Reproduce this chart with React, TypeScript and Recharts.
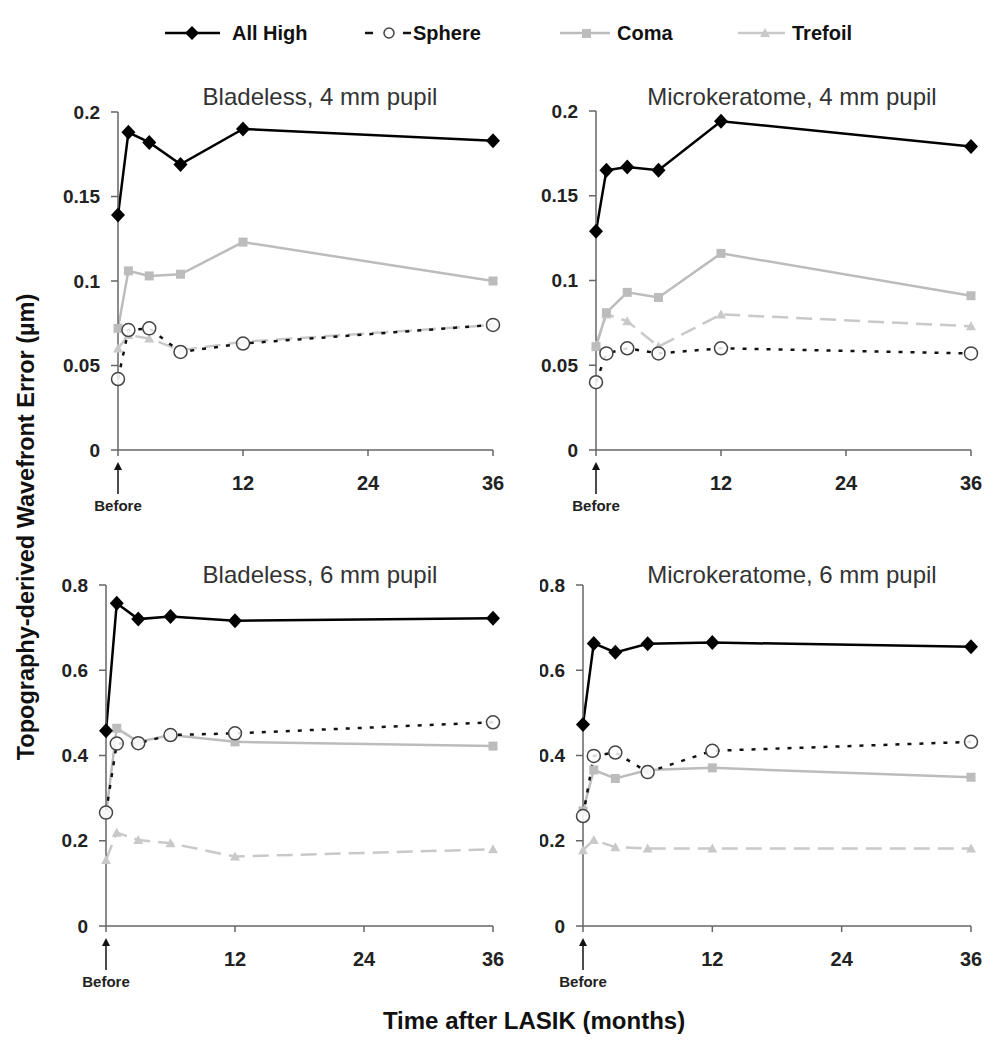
import React from "react";
import { LineChart, Line, XAxis, YAxis } from "recharts";

const FONT = '"Liberation Sans", Arial, Helvetica, sans-serif';

const months = [0, 1, 3, 6, 12, 36];
const xTicks = [0, 12, 24, 36];
const yTicks4mm = [0, 0.05, 0.1, 0.15, 0.2];
const yTicks6mm = [0, 0.2, 0.4, 0.6, 0.8];

// Bladeless, 4 mm pupil
const bl4AllHigh = [0.139, 0.188, 0.182, 0.169, 0.19, 0.183];
const bl4Sphere = [0.042, 0.071, 0.072, 0.058, 0.063, 0.074];
const bl4Coma = [0.072, 0.106, 0.103, 0.104, 0.123, 0.1];
const bl4Trefoil = [0.06, 0.068, 0.066, 0.059, 0.064, 0.074];

// Microkeratome, 4 mm pupil
const mk4AllHigh = [0.129, 0.165, 0.167, 0.165, 0.194, 0.179];
const mk4Sphere = [0.04, 0.057, 0.06, 0.057, 0.06, 0.057];
const mk4Coma = [0.061, 0.081, 0.093, 0.09, 0.116, 0.091];
const mk4Trefoil = [0.062, 0.08, 0.076, 0.061, 0.08, 0.073];

// Bladeless, 6 mm pupil
const bl6AllHigh = [0.458, 0.757, 0.72, 0.726, 0.716, 0.722];
const bl6Sphere = [0.266, 0.428, 0.429, 0.448, 0.452, 0.478];
const bl6Coma = [0.262, 0.464, 0.432, 0.448, 0.432, 0.422];
const bl6Trefoil = [0.155, 0.219, 0.202, 0.194, 0.163, 0.18];

// Microkeratome, 6 mm pupil
const mk6AllHigh = [0.473, 0.663, 0.642, 0.662, 0.665, 0.655];
const mk6Sphere = [0.258, 0.399, 0.407, 0.361, 0.411, 0.432];
const mk6Coma = [0.27, 0.366, 0.346, 0.366, 0.371, 0.349];
const mk6Trefoil = [0.178, 0.202, 0.185, 0.182, 0.182, 0.182];

const COMA = "#bcbcbc";
const TREFOIL = "#c9c9c9";
const AXIS = "#666";

const build = (a: number[], s: number[], c: number[], t: number[]) =>
  months.map((m, i) => ({ m, allHigh: a[i], sphere: s[i], coma: c[i], trefoil: t[i] }));

const Diamond = (p: any) => {
  const { cx, cy } = p;
  if (cx == null || cy == null) return <g />;
  return <polygon points={`${cx},${cy - 7.5} ${cx + 7},${cy} ${cx},${cy + 7.5} ${cx - 7},${cy}`} fill="#000" />;
};
const OpenCircle = (p: any) => {
  const { cx, cy } = p;
  if (cx == null || cy == null) return <g />;
  return <circle cx={cx} cy={cy} r={6.5} fill="#fff" fillOpacity={0.85} stroke="#444" strokeWidth={1.5} />;
};
const Square = (p: any) => {
  const { cx, cy } = p;
  if (cx == null || cy == null) return <g />;
  return <rect x={cx - 4.5} y={cy - 4.5} width={9} height={9} fill={COMA} />;
};
const Triangle = (p: any) => {
  const { cx, cy } = p;
  if (cx == null || cy == null) return <g />;
  return <polygon points={`${cx},${cy - 5} ${cx + 5},${cy + 4} ${cx - 5},${cy + 4}`} fill={TREFOIL} />;
};

const XTick = (p: any) => {
  const { x, y, payload } = p;
  if (payload.value === 0) {
    return (
      <g>
        <line x1={x} y1={y + 8} x2={x} y2={y + 36} stroke="#111" strokeWidth={1.5} />
        <polygon points={`${x},${y + 4} ${x + 4},${y + 12} ${x - 4},${y + 12}`} fill="#111" />
        <text x={x} y={y + 53} textAnchor="middle" fontFamily={FONT} fontWeight="bold" fontSize={15} fill="#222">
          Before
        </text>
      </g>
    );
  }
  return (
    <text x={x} y={y + 32} textAnchor="middle" fontFamily={FONT} fontWeight="bold" fontSize={20} fill="#222">
      {payload.value}
    </text>
  );
};

function Panel(props: any) {
  const { data, yTicks, yMax, left, top, yAxisWidth, marginTop, marginRight, height, title, titleX, titleY } = props;
  return (
    <div style={{ position: "absolute", left, top }}>
      <LineChart width={450} height={height} data={data} margin={{ top: marginTop, right: marginRight, left: 0, bottom: 0 }}>
        <XAxis
          dataKey="m"
          type="number"
          domain={[0, 36]}
          ticks={xTicks}
          interval={0}
          height={70}
          tickSize={6}
          stroke={AXIS}
          strokeWidth={1.5}
          tick={<XTick />}
        />
        <YAxis
          type="number"
          domain={[0, yMax]}
          ticks={yTicks}
          interval={0}
          width={yAxisWidth}
          tickSize={7}
          tickMargin={11}
          stroke={AXIS}
          strokeWidth={1.5}
          tick={{ fontSize: 19, fontWeight: "bold", fill: "#222", fontFamily: FONT }}
        />
        <Line dataKey="trefoil" stroke={TREFOIL} strokeWidth={2.5} strokeDasharray="16 8" dot={<Triangle />} activeDot={false} isAnimationActive={false} />
        <Line dataKey="coma" stroke={COMA} strokeWidth={2.5} dot={<Square />} activeDot={false} isAnimationActive={false} />
        <Line dataKey="sphere" stroke="#111" strokeWidth={2.5} strokeDasharray="4 8" dot={<OpenCircle />} activeDot={false} isAnimationActive={false} />
        <Line dataKey="allHigh" stroke="#000" strokeWidth={2.5} dot={<Diamond />} activeDot={false} isAnimationActive={false} />
      </LineChart>
      <div
        style={{
          position: "absolute",
          left: titleX - left - 200,
          top: titleY - top - 14,
          width: 400,
          textAlign: "center",
          fontFamily: FONT,
          fontSize: 24,
          color: "#333",
          whiteSpace: "nowrap",
        }}
      >
        {title}
      </div>
    </div>
  );
}

function Legend() {
  const ty = 40;
  return (
    <svg width={1008} height={60} style={{ position: "absolute", left: 0, top: 0 }}>
      <g fontFamily={FONT} fontWeight="bold" fontSize={20} fill="#111">
        <line x1={165} y1={33} x2={220} y2={33} stroke="#000" strokeWidth={2.5} />
        <polygon points="192,26 199,33 192,40 185,33" fill="#000" />
        <text x={232} y={ty}>All High</text>

        <line x1={365} y1={33} x2={373} y2={33} stroke="#111" strokeWidth={2.5} />
        <circle cx={389} cy={33} r={5} fill="#fff" stroke="#444" strokeWidth={1.5} />
        <line x1={403} y1={33} x2={411} y2={33} stroke="#111" strokeWidth={2.5} />
        <text x={413} y={ty}>Sphere</text>

        <line x1={560} y1={33} x2={610} y2={33} stroke={COMA} strokeWidth={2.5} />
        <rect x={582} y={29} width={9} height={9} fill={COMA} />
        <text x={617} y={ty}>Coma</text>

        <line x1={738} y1={33} x2={785} y2={33} stroke={TREFOIL} strokeWidth={2.5} />
        <polygon points="765,28 770,37 760,37" fill={TREFOIL} />
        <text x={792} y={ty}>Trefoil</text>
      </g>
    </svg>
  );
}

export default function App() {
  return (
    <div style={{ position: "absolute", left: 0, top: 0, width: 1008, height: 1050, background: "#fff", overflow: "hidden" }}>
      <Legend />
      <Panel
        data={build(bl4AllHigh, bl4Sphere, bl4Coma, bl4Trefoil)}
        yTicks={yTicks4mm}
        yMax={0.2}
        left={60}
        top={60}
        height={460}
        yAxisWidth={58}
        marginTop={52}
        marginRight={17}
        title="Bladeless, 4 mm pupil"
        titleX={320}
        titleY={97}
      />
      <Panel
        data={build(mk4AllHigh, mk4Sphere, mk4Coma, mk4Trefoil)}
        yTicks={yTicks4mm}
        yMax={0.2}
        left={540}
        top={60}
        height={460}
        yAxisWidth={56}
        marginTop={51}
        marginRight={19}
        title="Microkeratome, 4 mm pupil"
        titleX={792}
        titleY={97}
      />
      <Panel
        data={build(bl6AllHigh, bl6Sphere, bl6Coma, bl6Trefoil)}
        yTicks={yTicks6mm}
        yMax={0.8}
        left={60}
        top={530}
        height={466}
        yAxisWidth={46}
        marginTop={55}
        marginRight={17}
        title="Bladeless, 6 mm pupil"
        titleX={320}
        titleY={575}
      />
      <Panel
        data={build(mk6AllHigh, mk6Sphere, mk6Coma, mk6Trefoil)}
        yTicks={yTicks6mm}
        yMax={0.8}
        left={540}
        top={530}
        height={466}
        yAxisWidth={43}
        marginTop={55}
        marginRight={19}
        title="Microkeratome, 6 mm pupil"
        titleX={792}
        titleY={575}
      />
      <svg width={1008} height={1050} style={{ position: "absolute", left: 0, top: 0, pointerEvents: "none" }}>
        <text
          x={34}
          y={527}
          transform="rotate(-90, 34, 527)"
          textAnchor="middle"
          fontFamily={FONT}
          fontWeight="bold"
          fontSize={23.5}
          fill="#111"
        >
          Topography-derived Wavefront Error (µm)
        </text>
        <text x={534} y={1029} textAnchor="middle" fontFamily={FONT} fontWeight="bold" fontSize={24} fill="#111">
          Time after LASIK (months)
        </text>
      </svg>
    </div>
  );
}
